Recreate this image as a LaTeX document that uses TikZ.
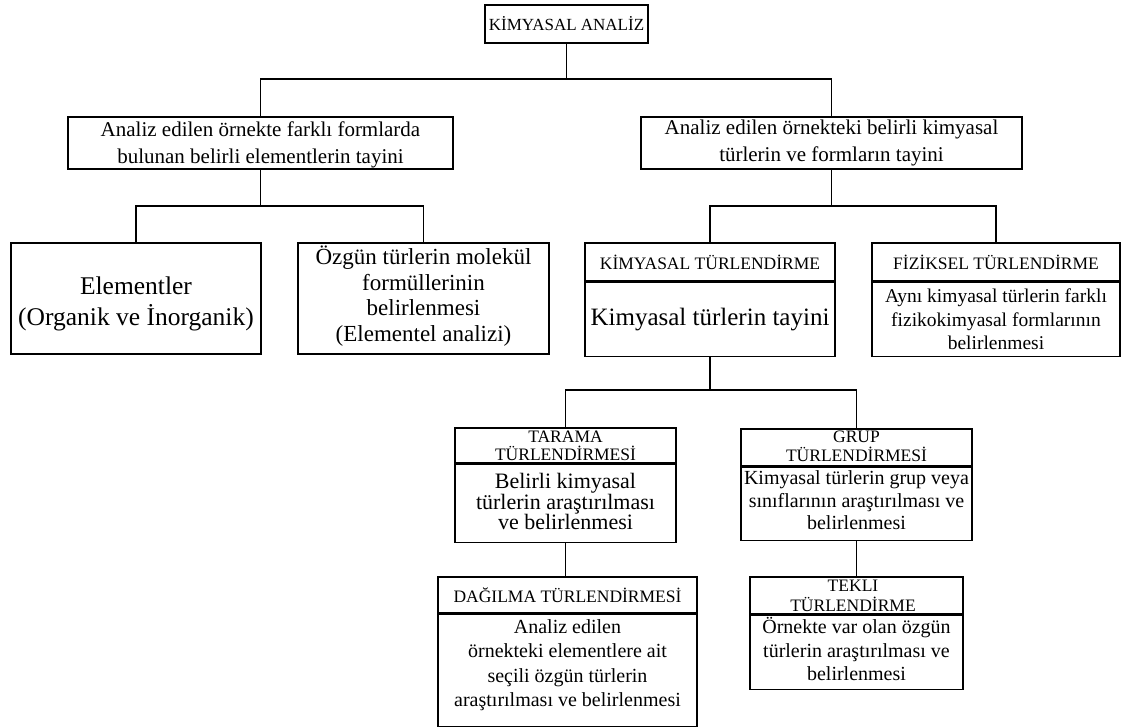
\documentclass[tikz,border=0pt]{standalone}
\usepackage{fontspec}
\setmainfont{Liberation Serif}
\begin{document}
\begin{tikzpicture}[x=1pt,y=-1pt,
  box/.style={draw, line width=1.4pt, inner sep=0pt, align=center},
  txt/.style={inner sep=0pt, align=center},
  link/.style={line width=1.4pt},
  ftop/.style={font=\fontsize{17}{19}\selectfont},
  fmid/.style={font=\fontsize{21}{27}\selectfont},
  fbig/.style={font=\fontsize{25}{36}\selectfont},
  fhdr/.style={font=\fontsize{17.5}{19}\selectfont}]
\useasboundingbox (0,0) rectangle (1125,728);

% root
\node[box, ftop, minimum width=163pt, minimum height=38pt] (top) at (566.5,24) {KİMYASAL ANALİZ};

% second level
\node[box, minimum width=385pt, minimum height=52pt] (L2) at (260.5,143) {};
\node[txt, fmid] (L2t) at (260.5,145) {Analiz edilen örnekte farklı formlarda\\bulunan belirli elementlerin tayini};
\node[box, fmid, minimum width=381pt, minimum height=52pt] (R2) at (831.5,143)
  {Analiz edilen örnekteki belirli kimyasal\\türlerin ve formların tayini};

% left branch
\node[box, minimum width=250pt, minimum height=111pt] (elem) at (136,298.5) {};
\node[txt, font=\fontsize{25.5}{31}\selectfont] (elemT) at (136,304) {Elementler\\(Organik ve İnorganik)};
\node[box, minimum width=251pt, minimum height=111pt] (ozg) at (423.5,298.5) {};
\node[txt, font=\fontsize{23}{25.7}\selectfont] (ozgT) at (423.5,296) {Özgün türlerin molekül\\formüllerinin\\belirlenmesi\\(Elementel analizi)};

% right branch: chemical / physical speciation
\node[box, fhdr, minimum width=250pt, minimum height=38pt] (ktH) at (710,262) {KİMYASAL TÜRLENDİRME};
\node[box, fbig, minimum width=250pt, minimum height=74pt, anchor=north] (ktB) at (ktH.south)
  {Kimyasal türlerin tayini};
\node[box, fhdr, minimum width=248pt, minimum height=38pt] (ftH) at (996,262) {FİZİKSEL TÜRLENDİRME};
\node[box, font=\fontsize{19.5}{23.5}\selectfont, minimum width=248pt, minimum height=74pt, anchor=north] (ftB) at (ftH.south)
  {Aynı kimyasal türlerin farklı\\fizikokimyasal formlarının\\belirlenmesi};

% screening / group speciation: frames first, then their texts
\node[box, minimum width=221pt, minimum height=35pt] (taH) at (565.5,445.5) {};
\node[box, minimum width=221pt, minimum height=78pt, anchor=north] (taB) at (taH.south) {};
\node[box, minimum width=231pt, minimum height=37pt] (grH) at (856.5,447.5) {};
\node[box, minimum width=231pt, minimum height=73pt, anchor=north] (grB) at (grH.south) {};
\node[txt, font=\fontsize{17.5}{18}\selectfont] (taT) at (565.5,446) {TARAMA\\TÜRLENDİRMESİ};
\node[txt, font=\fontsize{22}{20}\selectfont] (taBt) at (565.5,501) {Belirli kimyasal\\türlerin araştırılması\\ve belirlenmesi};
\node[txt, font=\fontsize{17.5}{19}\selectfont] (grT) at (856.5,446.5) {GRUP\\TÜRLENDİRMESİ};
\node[txt, font=\fontsize{20}{22.5}\selectfont] (grBt) at (856.5,500.5) {Kimyasal türlerin grup veya\\sınıflarının araştırılması ve\\belirlenmesi};

% distribution / single speciation
\node[box, fhdr, minimum width=259pt, minimum height=36pt] (daH) at (567.5,595) {DAĞILMA TÜRLENDİRMESİ};
\node[box, minimum width=259pt, minimum height=112pt, anchor=north] (daB) at (daH.south) {};
\node[box, minimum width=213pt, minimum height=37pt] (teH) at (856.5,595.5) {};
\node[box, minimum width=213pt, minimum height=74pt, anchor=north] (teB) at (teH.south) {};
\node[txt, font=\fontsize{20}{24.5}\selectfont] (daBt) at (567.5,665) {Analiz edilen\\örnekteki elementlere ait\\seçili özgün türlerin\\araştırılması ve belirlenmesi};
\node[txt, font=\fontsize{17.5}{20}\selectfont] (teT) at (853,595.5) {TEKLI\\TÜRLENDİRME};
\node[txt, font=\fontsize{20}{23.5}\selectfont] (teBt) at (856.5,649) {Örnekte var olan özgün\\türlerin araştırılması ve\\belirlenmesi};

% connectors
\coordinate (b1) at (566.5,79);
\draw[link] (top.south) -- (b1);
\draw[link] (L2.north) |- (b1) -| (R2.north);
\coordinate (b2) at (260.5,206);
\draw[link] (L2.south) -- (b2);
\draw[link] (elem.north) |- (b2) -| (ozg.north);
\coordinate (b3) at (831.5,206);
\draw[link] (R2.south) -- (b3);
\draw[link] (ktH.north) |- (b3) -| (ftH.north);
\coordinate (b4) at (710,390);
\draw[link] (ktB.south) -- (b4);
\draw[link] (taH.north) |- (b4) -| (grH.north);
\draw[link] (taB.south) -- (taB.south |- daH.north);
\draw[link] (grB.south) -- (grB.south |- teH.north);
\end{tikzpicture}
\end{document}
